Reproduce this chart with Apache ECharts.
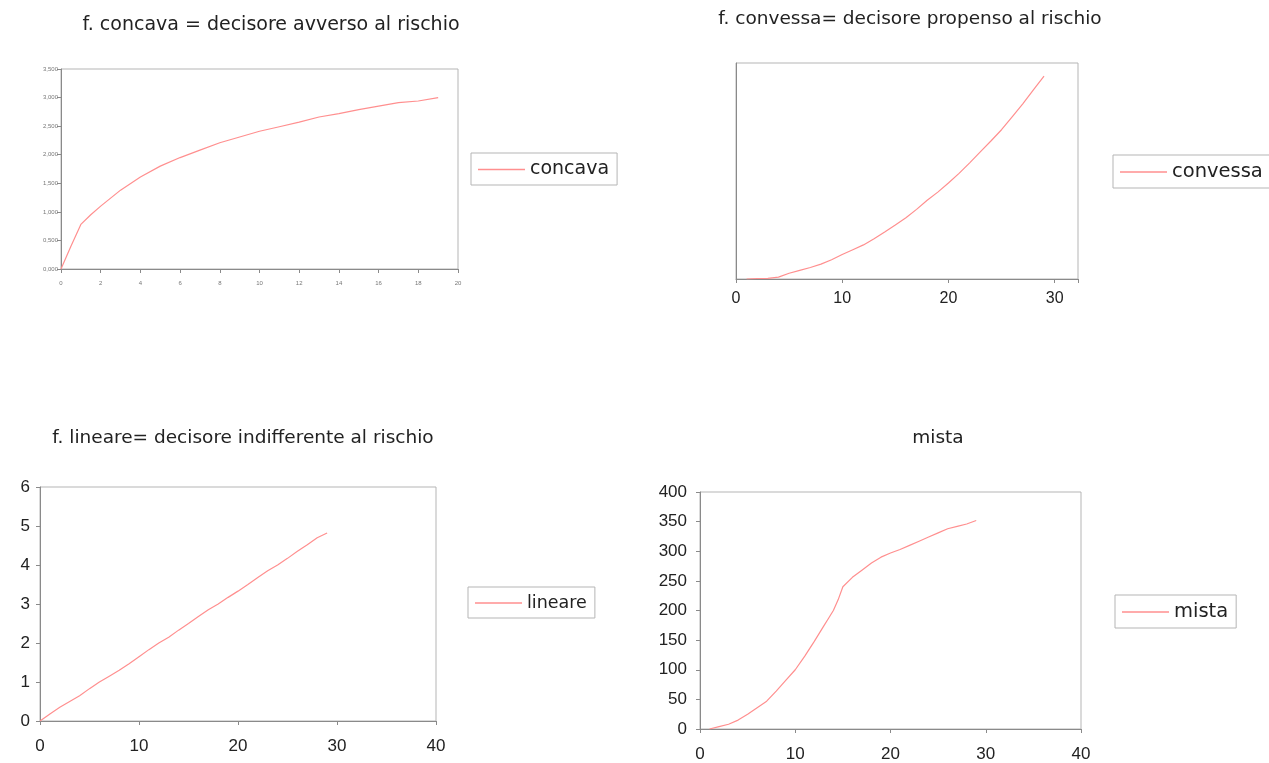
<!DOCTYPE html>
<html>
<head>
<meta charset="utf-8">
<script src="https://cdn.jsdelivr.net/npm/echarts@6/dist/echarts.min.js"></script>
<style>
  html, body { margin: 0; padding: 0; background: #fff; }
  #chart { width: 1269px; height: 763px; }
</style>
</head>
<body>
<div id="chart"></div>
<script>
// valori
const concavaX = [0, 0.5, 1, 1.5, 2, 3, 4, 5, 6, 7, 8, 9, 10, 11, 12, 13, 14, 15, 16, 17, 18, 19];
const concavaY = [0, 0.40, 0.78, 0.95, 1.10, 1.38, 1.61, 1.80, 1.95, 2.08, 2.21, 2.31, 2.41, 2.49, 2.57, 2.66, 2.72, 2.79, 2.85, 2.91, 2.94, 3.00];

const convessaX = [1, 2, 3, 4, 5, 6, 7, 8, 9, 10, 11, 12, 13, 14, 15, 16, 17, 18, 19, 20, 21, 22, 23, 24, 25, 26, 27, 28, 29];
const convessaY = [0, 2, 3, 8, 24, 36, 48, 62, 80, 102, 122, 142, 168, 196, 225, 255, 290, 328, 362, 400, 440, 484, 530, 575, 622, 676, 730, 788, 845];

const lineareX = [0, 1, 2, 3, 4, 5, 6, 7, 8, 9, 10, 11, 12, 13, 14, 15, 16, 17, 18, 19, 20, 21, 22, 23, 24, 25, 26, 27, 28, 29];
const lineareY = [0, 0.18, 0.35, 0.5, 0.65, 0.83, 1.0, 1.15, 1.3, 1.47, 1.65, 1.83, 2.0, 2.15, 2.33, 2.5, 2.68, 2.85, 3.0, 3.17, 3.33, 3.5, 3.68, 3.85, 4.0, 4.17, 4.35, 4.52, 4.7, 4.82];

const mistaX = [1, 2, 3, 4, 5, 6, 7, 8, 9, 10, 11, 12, 13, 13.5, 14, 14.5, 15, 16, 17, 18, 19, 20, 21, 22, 23, 24, 25, 26, 27, 28, 29];
const mistaY = [0, 4, 8, 15, 25, 36, 47, 64, 82, 100, 123, 148, 174, 187, 200, 218, 240, 256, 268, 280, 290, 297, 303, 310, 317, 324, 331, 338, 342, 346, 352];

const titles = [
  "f. concava = decisore avverso al rischio",
  "f. convessa= decisore propenso al rischio",
  "f. lineare= decisore indifferente al rischio",
  "mista"
];

const lineColor = "#ff8f8f";
const font = "Liberation Sans";
const wideFont = "DejaVu Sans";

const zip = (xs, ys) => xs.map((x, i) => [x, ys[i]]);

const chart = echarts.init(document.getElementById("chart"));

const grids = [
  { left: 61, top: 69, width: 397, height: 200 },
  { left: 736, top: 63, width: 342, height: 216 },
  { left: 40, top: 487, width: 396, height: 234 },
  { left: 700, top: 492, width: 381, height: 238 }
].map(g => ({ ...g, show: true, borderColor: "#b5b5b5", borderWidth: 1, backgroundColor: "#fff" }));

const axisLine = { show: true, lineStyle: { color: "#8a8a8a", width: 1 } };
const axisTick = { show: true, length: 4, lineStyle: { color: "#8a8a8a" } };

const xAxes = [
  { gridIndex: 0, min: 0, max: 20, interval: 2,
    axisLabel: { fontSize: 6, color: "#777", margin: 11, fontFamily: font } },
  { gridIndex: 1, min: 0, max: 32.2, interval: 10,
    axisLabel: { fontSize: 16, color: "#222", margin: 12, fontFamily: font,
      formatter: v => (v % 10 === 0 ? String(v) : "") } },
  { gridIndex: 2, min: 0, max: 40, interval: 10,
    axisLabel: { fontSize: 17, color: "#222", margin: 17, fontFamily: font } },
  { gridIndex: 3, min: 0, max: 40, interval: 10,
    axisLabel: { fontSize: 17, color: "#222", margin: 17, fontFamily: font } }
].map(a => ({ ...a, type: "value", axisLine, axisTick, splitLine: { show: false } }));

const yAxes = [
  { gridIndex: 0, min: 0, max: 3.5, interval: 0.5,
    axisLabel: { fontSize: 6, color: "#777", margin: 3, fontFamily: font,
      formatter: v => v.toFixed(3).replace(".", ",") } },
  { gridIndex: 1, min: 0, max: 900, axisLabel: { show: false }, axisTick: { show: false } },
  { gridIndex: 2, min: 0, max: 6, interval: 1,
    axisLabel: { fontSize: 17, color: "#222", margin: 10, fontFamily: font } },
  { gridIndex: 3, min: 0, max: 400, interval: 50,
    axisLabel: { fontSize: 17, color: "#222", margin: 13, fontFamily: font } }
].map(a => ({ axisTick, ...a, type: "value", axisLine, splitLine: { show: false } }));

const names = ["concava", "convessa", "lineare", "mista"];
const dataSets = [zip(concavaX, concavaY), zip(convessaX, convessaY), zip(lineareX, lineareY), zip(mistaX, mistaY)];

const series = names.map((name, i) => ({
  name,
  type: "line",
  xAxisIndex: i,
  yAxisIndex: i,
  data: dataSets[i],
  showSymbol: false,
  smooth: false,
  lineStyle: { color: lineColor, width: 1.2 },
  itemStyle: { color: lineColor },
  animation: false
}));

const legendPos = [
  { left: 471, top: 153, size: 19 },
  { left: 1113, top: 155, size: 19.5 },
  { left: 468, top: 587, size: 17.5 },
  { left: 1115, top: 595, size: 19.5 }
];

const legends = names.map((name, i) => ({
  left: legendPos[i].left,
  top: legendPos[i].top,
  data: [name],
  icon: "rect",
  itemWidth: 47,
  itemHeight: 1.5,
  padding: [7, 8, 6, 7],
  borderColor: "#b5b5b5",
  borderWidth: 1,
  selectedMode: false,
  textStyle: { fontSize: legendPos[i].size, color: "#222", fontFamily: wideFont }
}));

const titlePos = [[271, 25], [910, 19], [243, 438], [938, 438]];
const titleSize = [19, 18.5, 18.5, 18.5];

const graphic = titles.map((t, i) => ({
  type: "text",
  x: titlePos[i][0],
  y: titlePos[i][1],
  style: {
    text: t,
    fill: "#222",
    font: titleSize[i] + "px 'DejaVu Sans'",
    textAlign: "center",
    textVerticalAlign: "middle"
  }
}));

chart.setOption({
  animation: false,
  grid: grids,
  xAxis: xAxes,
  yAxis: yAxes,
  legend: legends,
  series,
  graphic
});
</script>
</body>
</html>
